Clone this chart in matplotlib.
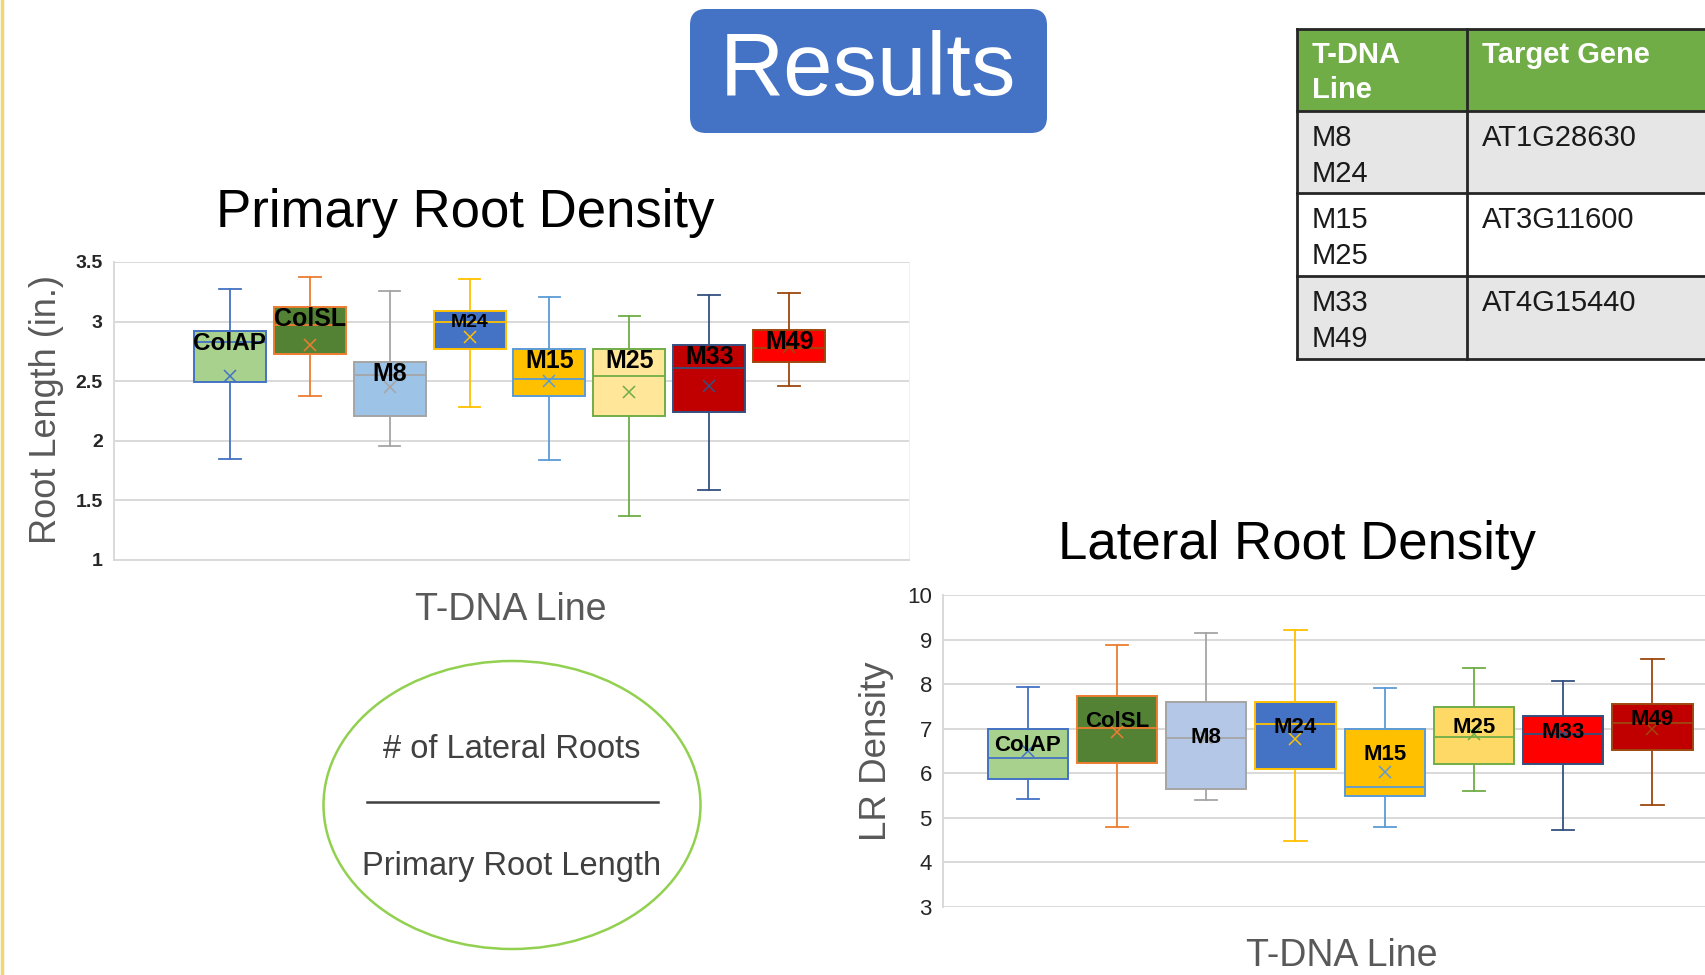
"""
Results slide: primary root density and lateral root density box plots per T-DNA line
"""
import matplotlib
matplotlib.use("Agg")
import matplotlib.pyplot as plt
from matplotlib.patches import Rectangle, FancyBboxPatch, Ellipse

plt.rcParams["font.family"] = ["Liberation Sans", "DejaVu Sans"]

# ----- data -----
lines = ["ColAP", "ColSL", "M8", "M24", "M15", "M25", "M33", "M49"]

# primary root length (in.)
prl_whislo = [1.85, 2.38, 1.96, 2.28, 1.84, 1.37, 1.59, 2.46]
prl_q1     = [2.49, 2.73, 2.21, 2.77, 2.38, 2.21, 2.24, 2.66]
prl_med    = [2.83, 2.97, 2.55, 3.00, 2.52, 2.54, 2.61, 2.78]
prl_q3     = [2.92, 3.12, 2.66, 3.09, 2.77, 2.77, 2.80, 2.93]
prl_whishi = [3.27, 3.37, 3.26, 3.36, 3.21, 3.05, 3.22, 3.24]
prl_mean   = [2.54, 2.80, 2.45, 2.87, 2.50, 2.41, 2.46, 2.79]

# lateral root density
lrd_whislo = [5.43, 4.80, 5.40, 4.48, 4.80, 5.61, 4.72, 5.29]
lrd_q1     = [5.87, 6.24, 5.64, 6.10, 5.48, 6.20, 6.20, 6.52]
lrd_med    = [6.34, 7.01, 6.80, 7.10, 5.69, 6.82, 6.88, 7.12]
lrd_q3     = [7.00, 7.74, 7.60, 7.59, 7.00, 7.49, 7.29, 7.55]
lrd_whishi = [7.94, 8.87, 9.14, 9.22, 7.91, 8.36, 8.07, 8.57]
lrd_mean   = [6.49, 6.92, 6.79, 6.78, 6.02, 6.88, 6.88, 6.99]

table_lines = ["M8\nM24", "M15\nM25", "M33\nM49"]
table_genes = ["AT1G28630", "AT3G11600", "AT4G15440"]

# ----- styles -----
prl_fill = ["#A9D18E", "#548235", "#9DC3E6", "#4472C4", "#FFC000", "#FFE699", "#C00000", "#FF0000"]
lrd_fill = ["#A9D18E", "#548235", "#B4C7E7", "#4472C4", "#FFC000", "#FFD966", "#FF0000", "#C00000"]
edge = ["#4472C4", "#ED7D31", "#A5A5A5", "#FFC000", "#5B9BD5", "#70AD47", "#34507F", "#9E480E"]
prl_lab_size = [17.5, 18, 18, 14, 18, 18, 18, 18]
GRID = "#D9D9D9"
TXT = "#595959"

W, H = 1705, 975
fig = plt.figure(figsize=(W / 100, H / 100), dpi=100)
fig.patch.set_facecolor("white")


def px(x0, y0, x1, y1):
    # pixel box (top-left origin) -> figure fraction rect
    return [x0 / W, 1 - y1 / H, (x1 - x0) / W, (y1 - y0) / H]


def draw_box(ax, lo, q1, med, q3, hi, mean, fills, capw):
    stats = [dict(whislo=a, q1=b, med=c, q3=d, whishi=e, mean=f, fliers=[], label=n)
             for a, b, c, d, e, f, n in zip(lo, q1, med, q3, hi, mean, lines)]
    bp = ax.bxp(stats, positions=range(len(lines)), widths=0.9, patch_artist=True,
                showmeans=True, showfliers=False, capwidths=capw,
                meanprops=dict(marker="x", markersize=9, markeredgewidth=1.1))
    for i in range(len(lines)):
        bp["boxes"][i].set(facecolor=fills[i], edgecolor=edge[i], linewidth=1.4)
        bp["medians"][i].set(color=edge[i], linewidth=1.3)
        bp["means"][i].set(markeredgecolor=edge[i])
        for art in bp["whiskers"][2 * i:2 * i + 2] + bp["caps"][2 * i:2 * i + 2]:
            art.set(color=edge[i], linewidth=1.3)
    return bp


def style_axes(ax):
    ax.set_axisbelow(True)
    ax.grid(axis="y", color=GRID, lw=1.4)
    ax.tick_params(length=0, pad=8)
    ax.set_xticks([])
    for s in ["top", "right"]:
        ax.spines[s].set_visible(False)
    for s in ["left", "bottom"]:
        ax.spines[s].set_color(GRID)
        ax.spines[s].set_linewidth(1.4)


# ----- primary root density -----
ax1 = fig.add_axes(px(114, 262, 909, 560))
draw_box(ax1, prl_whislo, prl_q1, prl_med, prl_q3, prl_whishi, prl_mean, prl_fill, 0.27)
ax1.set_ylim(1, 3.5)
ax1.set_xlim(-1.45, 8.5)
ax1.set_yticks([1, 1.5, 2, 2.5, 3, 3.5])
ax1.set_yticklabels(["1", "1.5", "2", "2.5", "3", "3.5"], fontsize=14,
                    fontweight="bold", color="#262626")
style_axes(ax1)
ax1.spines["right"].set_visible(True)
ax1.spines["right"].set_color("#F0F0F0")
for i, n in enumerate(lines):
    ax1.text(i, prl_q3[i] - 0.1, n, ha="center", va="center",
             fontsize=prl_lab_size[i], fontweight="bold", color="black")

# ----- lateral root density -----
ax2 = fig.add_axes(px(943, 595, 1705, 907))
draw_box(ax2, lrd_whislo, lrd_q1, lrd_med, lrd_q3, lrd_whishi, lrd_mean, lrd_fill, 0.25)
ax2.set_ylim(3, 10)
ax2.set_xlim(-0.95, 7.59)
ax2.set_yticks(range(3, 11))
ax2.set_yticklabels([str(v) for v in range(3, 11)], fontsize=16, color="#262626")
style_axes(ax2)
ax2.spines["bottom"].set_visible(False)
for i, n in enumerate(lines):
    ax2.text(i, (lrd_q1[i] + lrd_q3[i]) / 2 + 0.18, n, ha="center", va="center",
             fontsize=16, fontweight="bold", color="black")

# ----- overlay in pixel coords -----
ov = fig.add_axes([0, 0, 1, 1], zorder=-1)
ov.set_xlim(0, W)
ov.set_ylim(H, 0)
ov.axis("off")

ov.plot([1.5, 1.5], [0, H], color="#F2D675", lw=2.5)

# titles and axis labels
ov.text(465, 213, "Primary Root Density", fontsize=38, ha="center", va="center", color="black")
ov.text(1297, 545, "Lateral Root Density", fontsize=38, ha="center", va="center", color="black")
ov.text(511, 610, "T-DNA Line", fontsize=27, ha="center", va="center", color=TXT)
ov.text(1342, 956, "T-DNA Line", fontsize=27, ha="center", va="center", color=TXT)
ov.text(47, 410, "Root Length (in.)", fontsize=26, rotation=90, ha="center", va="center", color=TXT)
ov.text(876, 751, "LR Density", fontsize=26.5, rotation=90, ha="center", va="center", color=TXT)

# Results banner
ov.add_patch(FancyBboxPatch((690, 9), 357, 124, boxstyle="round,pad=0,rounding_size=16",
                            facecolor="#4472C4", edgecolor="none"))
ov.text(868, 72, "Results", fontsize=64, color="white", ha="center", va="center")

# formula ellipse
ov.add_patch(Ellipse((512, 805), 377, 288, facecolor="none", edgecolor="#92D050", lw=1.8))
ov.text(512, 750, "# of Lateral Roots", fontsize=23.5, ha="center", va="center", color="#404040")
ov.plot([367, 658], [802, 802], color="#404040", lw=1.8)
ov.text(512, 867, "Primary Root Length", fontsize=23.5, ha="center", va="center", color="#404040")

# gene table
tx0, tx1, tx2 = 1297, 1467, 1720
row_y = [29, 111, 193, 276, 359]
ov.add_patch(Rectangle((tx0, row_y[0]), tx2 - tx0, row_y[1] - row_y[0], facecolor="#70AD47",
                       edgecolor="none"))
for r in range(len(table_lines)):
    fc = "#E7E6E6" if r % 2 == 0 else "white"
    ov.add_patch(Rectangle((tx0, row_y[r + 1]), tx2 - tx0, row_y[r + 2] - row_y[r + 1],
                           facecolor=fc, edgecolor="none"))
for yy in row_y:
    ov.plot([tx0, tx2], [yy, yy], color="#262626", lw=2)
ov.plot([tx0, tx0], [row_y[0], row_y[-1]], color="#262626", lw=2)
ov.plot([tx1, tx1], [row_y[0], row_y[-1]], color="#262626", lw=2)
ov.text(tx0 + 15, row_y[0] + 12, "T-DNA\nLine", fontsize=21, fontweight="bold", color="white",
        ha="left", va="top", linespacing=1.3)
ov.text(tx1 + 15, row_y[0] + 12, "Target Gene", fontsize=21, fontweight="bold", color="white",
        ha="left", va="top")
for r, (ln, g) in enumerate(zip(table_lines, table_genes)):
    ov.text(tx0 + 15, row_y[r + 1] + 13, ln, fontsize=21, color="#1a1a1a", ha="left", va="top",
            linespacing=1.35)
    ov.text(tx1 + 15, row_y[r + 1] + 13, g, fontsize=21, color="#1a1a1a", ha="left", va="top")

fig.savefig("out.png", dpi=100)
